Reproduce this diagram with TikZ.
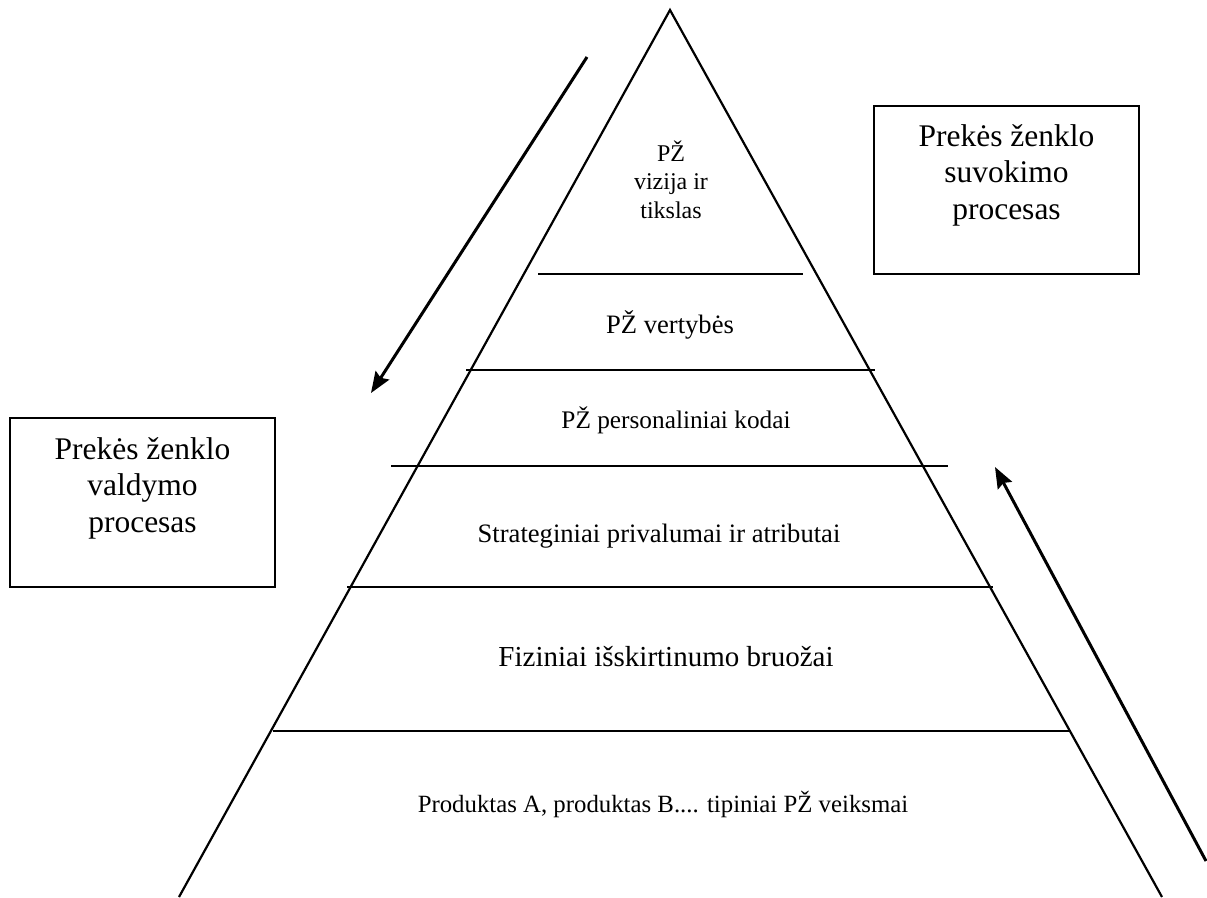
\documentclass[tikz,border=0pt]{standalone}
\usepackage{fontspec}
\setmainfont{Liberation Serif}
\usetikzlibrary{arrows.meta}
\begin{document}
\begin{tikzpicture}[x=1pt,y=-1pt,
  side/.style={line width=2.2pt},
  layer/.style={line width=2.2pt},
  lbl/.style={anchor=base, inner sep=0pt},
  boxtxt/.style={font=\fontsize{31.5}{36.5}\selectfont, align=center, anchor=base, inner sep=0pt},
  procbox/.style={draw, line width=2pt, inner sep=0pt, minimum width=265pt},
  flow/.style={line width=3pt, -{Stealth[length=21pt,width=16pt,inset=3pt]}},
]
\useasboundingbox (0,0) rectangle (1207,897);

% pyramid outline
\coordinate (apex) at (670,10);
\coordinate (bl) at (179,897);
\coordinate (br) at (1162,897);
\draw[side] (bl) -- (apex) -- (br);

% layer dividers
\coordinate (d1a) at (538,274); \coordinate (d1b) at (803,274);
\coordinate (d2a) at (466,370); \coordinate (d2b) at (875,370);
\coordinate (d3a) at (391,466); \coordinate (d3b) at (948,466);
\coordinate (d4a) at (347,587); \coordinate (d4b) at (993,587);
\coordinate (d5a) at (273,731); \coordinate (d5b) at (1070,731);
\draw[layer] (d1a) -- (d1b);
\draw[layer] (d2a) -- (d2b);
\draw[layer] (d3a) -- (d3b);
\draw[layer] (d4a) -- (d4b);
\draw[layer] (d5a) -- (d5b);

% layer labels (multi-line nodes sit on the baseline of their last line)
\node[lbl, align=center, font=\fontsize{24}{28.5}\selectfont] (vision) at (671,218) {PŽ\\vizija ir\\tikslas};
\node[lbl, font=\fontsize{26.6}{30}\selectfont] (values) at (670,333) {PŽ vertybės};
\node[lbl, font=\fontsize{25.3}{29}\selectfont] (codes) at (676,428) {PŽ personaliniai kodai};
\node[lbl, font=\fontsize{26.6}{30}\selectfont] (assets) at (659,542) {Strateginiai privalumai ir atributai};
\node[lbl, font=\fontsize{29}{33}\selectfont] (traits) at (666,666) {Fiziniai išskirtinumo bruožai};
\node[lbl, font=\fontsize{24.8}{29}\selectfont] (products) at (663,812) {Produktas A, produktas B.... tipiniai PŽ veiksmai};

% process boxes
\node[procbox, minimum height=168pt] (perception) at (1006.5,190) {};
\node[boxtxt] (perceptiontxt) at (1006.5,219) {Prekės ženklo\\suvokimo\\procesas};
\node[procbox, minimum height=169pt] (management) at (142.5,502.5) {};
\node[boxtxt] (managementtxt) at (142.5,532) {Prekės ženklo\\valdymo\\procesas};

% process direction arrows
\coordinate (downs) at (587,57);
\coordinate (downe) at (371,393);
\draw[flow] (downs) -- (downe);
\coordinate (ups) at (1206,861);
\coordinate (upe) at (995,467);
\draw[flow] (ups) -- (upe);
\end{tikzpicture}
\end{document}
